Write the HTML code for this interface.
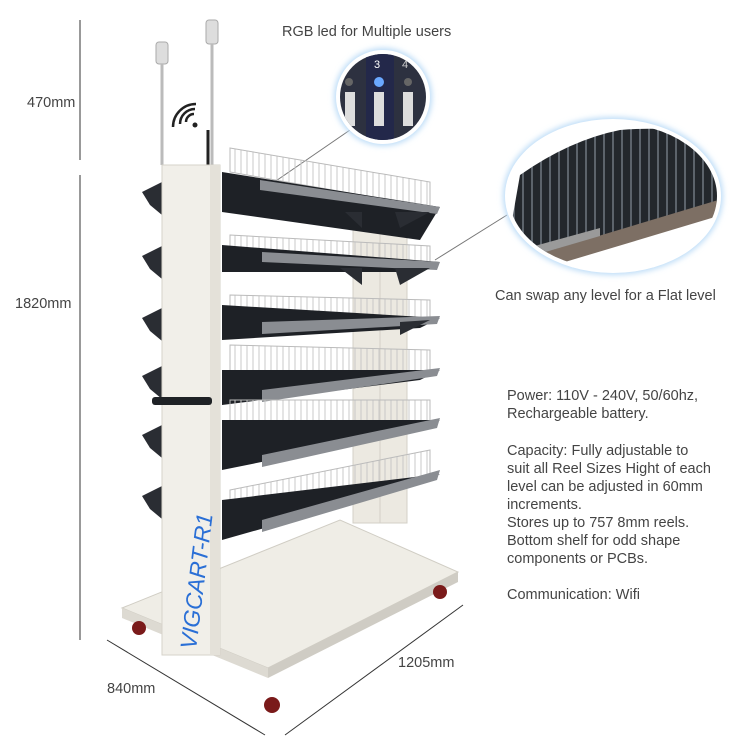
<!DOCTYPE html>
<html><head><meta charset="utf-8"><style>
html,body{margin:0;padding:0;background:#fff;}
svg{display:block;font-family:"Liberation Sans",sans-serif;}
</style></head><body>
<svg width="756" height="754" viewBox="0 0 756 754" xmlns="http://www.w3.org/2000/svg">
<defs>
<filter id="glow" x="-20%" y="-20%" width="140%" height="140%"><feGaussianBlur stdDeviation="3"/></filter>
<clipPath id="c1"><circle cx="383" cy="97" r="43"/></clipPath>
<clipPath id="c2"><ellipse cx="613" cy="196" rx="104" ry="73"/></clipPath>
<pattern id="wire" width="6" height="40" patternUnits="userSpaceOnUse"><line x1="1" y1="0" x2="1" y2="40" stroke="#c8c8c8" stroke-width="1"/></pattern>
<pattern id="fins" width="9" height="200" patternUnits="userSpaceOnUse"><rect width="9" height="200" fill="#23272c"/><line x1="1" y1="0" x2="1" y2="200" stroke="#5c636b" stroke-width="2"/></pattern>
</defs>
<g stroke="#333" stroke-width="1">
<line x1="80" y1="20" x2="80" y2="160"/>
<line x1="80" y1="175" x2="80" y2="640"/>
<line x1="107" y1="640" x2="265" y2="735"/>
<line x1="285" y1="735" x2="463" y2="605"/>
</g>
<g fill="#444" font-size="14.5">
<text x="27" y="107">470mm</text>
<text x="15" y="308">1820mm</text>
<text x="107" y="693">840mm</text>
<text x="398" y="667">1205mm</text>
<text x="282" y="36">RGB led for Multiple users</text>
<text x="495" y="300">Can swap any level for a Flat level</text>
<text x="507" y="400">Power: 110V - 240V, 50/60hz,</text>
<text x="507" y="418">Rechargeable battery.</text>
<text x="507" y="455">Capacity: Fully adjustable to</text>
<text x="507" y="473">suit all Reel Sizes Hight of each</text>
<text x="507" y="491">level can be adjusted in 60mm</text>
<text x="507" y="509">increments.</text>
<text x="507" y="527">Stores up to 757 8mm reels.</text>
<text x="507" y="545">Bottom shelf for odd shape</text>
<text x="507" y="563">components or PCBs.</text>
<text x="507" y="599">Communication: Wifi</text>
</g>
<line x1="350" y1="130" x2="270" y2="185" stroke="#777"/>
<line x1="507" y1="215" x2="435" y2="260" stroke="#777"/>
<rect x="156" y="42" width="12" height="22" rx="3" fill="#ddd" stroke="#aaa"/>
<line x1="162" y1="64" x2="162" y2="165" stroke="#bbb" stroke-width="3"/>
<rect x="206" y="20" width="12" height="24" rx="3" fill="#ddd" stroke="#aaa"/>
<line x1="212" y1="44" x2="212" y2="165" stroke="#bbb" stroke-width="3"/>
<line x1="208" y1="130" x2="208" y2="165" stroke="#222" stroke-width="3"/>
<g fill="none" stroke="#222" stroke-width="2.5">
<path d="M186 122 a8 8 0 0 1 8 -8"/><path d="M180 124 a15 15 0 0 1 15 -15"/><path d="M173 127 a23 23 0 0 1 23 -23"/>
</g>
<circle cx="195" cy="125" r="2.5" fill="#222"/>
<polygon points="122,608 340,520 458,572 268,668" fill="#efede6" stroke="#d0cdc4"/>
<polygon points="122,608 268,668 268,678 122,618" fill="#dddad2"/>
<polygon points="268,668 458,572 458,582 268,678" fill="#cfccc4"/>
<g fill="#7a1a1a"><circle cx="139" cy="628" r="7"/><circle cx="272" cy="705" r="8"/><circle cx="440" cy="592" r="7"/></g>
<rect x="353" y="213" width="54" height="310" fill="#ece9e1" stroke="#d3d0c7"/>
<line x1="380" y1="213" x2="380" y2="523" stroke="#d3d0c7"/>
<g fill="#2a2d33">
<polygon points="142,192 162,182 162,215 150,205"/><polygon points="142,256 162,246 162,279 150,269"/>
<polygon points="142,318 162,308 162,341 150,331"/><polygon points="142,376 162,366 162,399 150,389"/>
<polygon points="142,435 162,425 162,458 150,448"/><polygon points="142,496 162,486 162,519 150,509"/>
</g>
<g>
<polygon points="230,148 430,182 430,207 230,172" fill="url(#wire)" stroke="#bbb"/>
<polygon points="222,172 440,207 420,240 222,212" fill="#1e2126"/>
<polygon points="260,180 440,207 437,214 260,190" fill="#8a8d92"/>
<polygon points="230,235 430,246 430,262 230,255" fill="url(#wire)" stroke="#bbb"/>
<polygon points="222,245 440,262 420,272 222,272" fill="#1e2126"/>
<polygon points="262,252 440,262 437,270 262,262" fill="#8a8d92"/>
<polygon points="230,295 430,300 430,318 230,318" fill="url(#wire)" stroke="#bbb"/>
<polygon points="222,305 440,318 420,328 222,340" fill="#1e2126"/>
<polygon points="262,322 440,316 437,324 262,334" fill="#8a8d92"/>
<polygon points="230,345 430,350 430,372 230,390" fill="url(#wire)" stroke="#bbb"/>
<polygon points="222,370 440,370 420,380 222,405" fill="#1e2126"/>
<polygon points="262,390 440,368 437,376 262,402" fill="#8a8d92"/>
<polygon points="230,400 430,400 430,422 230,455" fill="url(#wire)" stroke="#bbb"/>
<polygon points="222,420 440,420 420,430 222,470" fill="#1e2126"/>
<polygon points="262,455 440,418 437,428 262,467" fill="#8a8d92"/>
<polygon points="230,490 430,450 430,474 230,520" fill="url(#wire)" stroke="#bbb"/>
<polygon points="222,500 440,474 420,484 222,540" fill="#1e2126"/>
<polygon points="262,520 440,470 437,480 262,532" fill="#8a8d92"/>
<g fill="#2a2d33">
<polygon points="340,268 362,268 362,285"/><polygon points="395,268 430,268 400,285"/>
<polygon points="400,322 430,320 400,335"/><polygon points="345,212 362,212 362,228"/><polygon points="395,212 430,212 400,228"/>
</g>
</g>
<rect x="162" y="165" width="58" height="490" fill="#f1efe9" stroke="#d6d3ca"/>
<rect x="210" y="165" width="10" height="490" fill="#e4e1d9"/>
<rect x="152" y="397" width="60" height="8" rx="3" fill="#1f2226"/>
<text transform="translate(196,650) rotate(-83)" font-size="23" font-style="italic" fill="#2a6fd6">VIGCART-R1</text>
<circle cx="383" cy="97" r="49" fill="#bcdcf7" filter="url(#glow)"/>
<circle cx="383" cy="97" r="47" fill="#fff"/>
<g clip-path="url(#c1)">
<rect x="330" y="50" width="110" height="100" fill="#2d3140"/>
<rect x="366" y="50" width="28" height="100" fill="#23284a"/>
<circle cx="379" cy="82" r="5" fill="#6aa8ff"/>
<circle cx="349" cy="82" r="4" fill="#666"/><circle cx="408" cy="82" r="4" fill="#666"/>
<rect x="345" y="92" width="10" height="34" fill="#ddd"/><rect x="374" y="92" width="10" height="34" fill="#ddd"/><rect x="403" y="92" width="10" height="34" fill="#ddd"/>
<text x="374" y="68" font-size="11" fill="#fff">3</text><text x="402" y="68" font-size="11" fill="#ccc">4</text>
</g>
<ellipse cx="613" cy="196" rx="110" ry="79" fill="#bcdcf7" filter="url(#glow)"/>
<ellipse cx="613" cy="196" rx="108" ry="77" fill="#fff"/>
<g clip-path="url(#c2)">
<path d="M505 260 L520 175 Q570 140 620 130 Q680 125 725 140 L725 200 L545 255 Z" fill="url(#fins)"/>
<polygon points="535,255 725,198 725,214 545,268" fill="#7d6f64"/>
<polygon points="520,250 600,228 600,236 525,258" fill="#9a9a9a"/>
</g>
</svg>
</body></html>
